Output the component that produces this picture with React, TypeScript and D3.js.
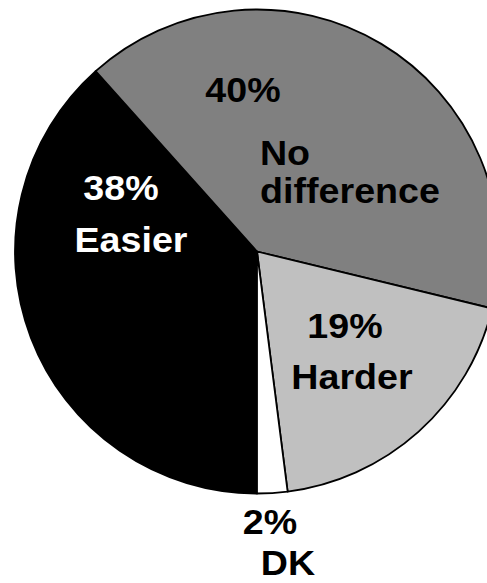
import React from "react";
import * as d3 from "d3";

// Survey answers
const categories = ["Easier", "No difference", "Harder", "DK"];
const values = [38, 40, 19, 2];
const fills = ["#000000", "#808080", "#c0c0c0", "#ffffff"];
const labelColors = ["#ffffff", "#000000", "#000000", "#000000"];
const categoryLines = [["Easier"], ["No", "difference"], ["Harder"], ["DK"]];

// Label placement: centre x and baseline y for the percentage line and
// the category lines of each slice, in page pixels.
const labelLayout = [
  { pct: [121, 200], lines: [[131, 252]] },
  { pct: [243, 102], lines: [[285, 165], [350, 203]] },
  { pct: [345, 338], lines: [[352, 389]] },
  { pct: [270, 534], lines: [[288, 575]] },
];

const W = 487;
const H = 583;
const CX = 257;
const CY = 251.5;
const R = 242;
const FONT = "'Liberation Sans', Arial, Helvetica, sans-serif";

function Label({ x, y, text }: { x: number; y: number; text: string }) {
  // Bold face drawn slightly wide
  return (
    <text transform={`translate(${x},${y}) scale(1.06,1)`} x={0} y={0}>
      {text}
    </text>
  );
}

export default function App() {
  const pie = d3
    .pie<number>()
    .sort(null)
    .value((d) => d)
    .startAngle(Math.PI)
    .endAngle(3 * Math.PI);
  const arcs = pie(values);
  const arc = d3.arc<d3.PieArcDatum<number>>().innerRadius(0).outerRadius(R);

  return (
    <svg
      width={W}
      height={H}
      viewBox={`0 0 ${W} ${H}`}
      style={{ position: "fixed", left: 0, top: 0, background: "#fff" }}
    >
      <g transform={`translate(${CX},${CY})`}>
        {arcs.map((a, i) => (
          <path
            key={categories[i]}
            d={arc(a) || ""}
            fill={fills[i]}
            stroke="#000"
            strokeWidth={1.8}
            strokeLinejoin="round"
          />
        ))}
      </g>
      {labelLayout.map((l, i) => (
        <g
          key={categories[i]}
          fill={labelColors[i]}
          fontFamily={FONT}
          fontWeight="bold"
          fontSize={35.5}
          textAnchor="middle"
        >
          <Label x={l.pct[0]} y={l.pct[1]} text={`${values[i]}%`} />
          {categoryLines[i].map((t, j) => (
            <Label key={t} x={l.lines[j][0]} y={l.lines[j][1]} text={t} />
          ))}
        </g>
      ))}
    </svg>
  );
}
